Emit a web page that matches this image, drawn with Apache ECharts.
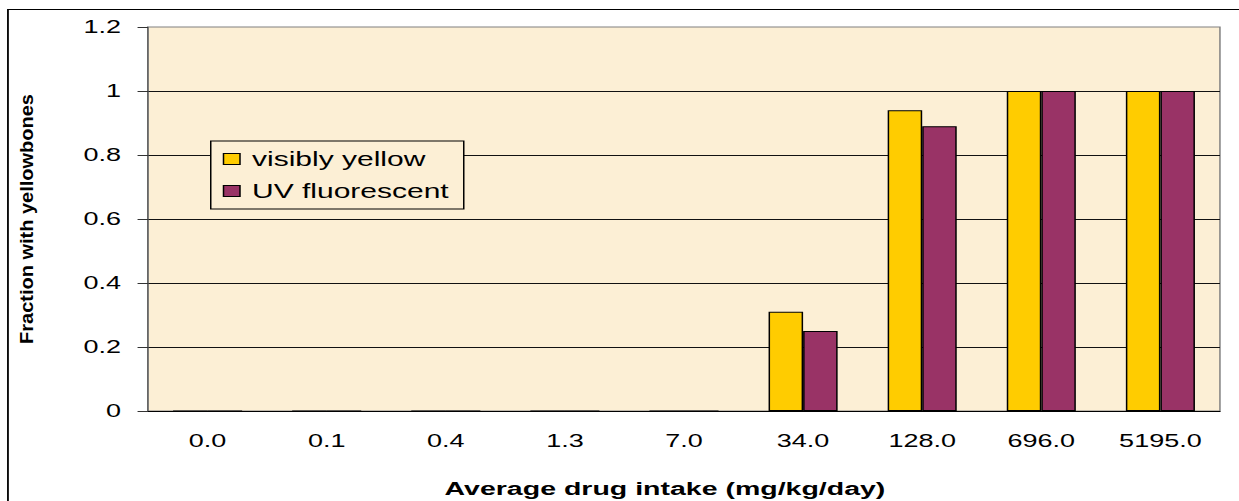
<!DOCTYPE html>
<html>
<head>
<meta charset="utf-8">
<script src="https://cdn.jsdelivr.net/npm/echarts@6/dist/echarts.min.js"></script>
<style>
html, body { margin: 0; padding: 0; background: #fff; overflow: hidden; }
/* the source picture is an Excel chart stretched sideways, so draw narrow and stretch */
#chart { width: 826px; height: 501px; transform: scaleX(1.5); transform-origin: 0 0; }
</style>
</head>
<body>
<div id="chart"></div>
<script>
// average drug intake (mg/kg/day)
const categories = ['0.0', '0.1', '0.4', '1.3', '7.0', '34.0', '128.0', '696.0', '5195.0']
// fraction of animals with yellow bones
const visiblyYellow = [0, 0, 0, 0, 0, 0.31, 0.94, 1, 1]
const uvFluorescent = [0, 0, 0, 0, 0, 0.25, 0.89, 1, 1]

const font = '"Liberation Sans", Arial, sans-serif'
const plotBg = '#fcefd5'

const myChart = echarts.init(document.getElementById('chart'), null, { renderer: 'svg' })

const option = {
  animation: false,
  textStyle: { fontFamily: font, color: '#000' },
  grid: {
    left: 98.7,
    right: 12.7,
    top: 27,
    bottom: 90,
    show: true,
    backgroundColor: plotBg,
    borderColor: '#808080',
    borderWidth: 1
  },
  legend: {
    orient: 'vertical',
    left: 140.5,
    top: 141,
    padding: [8, 10, 8, 8],
    itemWidth: 11,
    itemHeight: 11,
    itemGap: 12,
    icon: 'rect',
    backgroundColor: plotBg,
    borderColor: '#000',
    borderWidth: 1,
    itemStyle: { borderColor: '#000', borderWidth: 1 },
    textStyle: { fontSize: 20, lineHeight: 20, fontFamily: font, color: '#000', padding: [0, 0, 0, 3] },
    data: ['visibly yellow', 'UV fluorescent']
  },
  xAxis: {
    type: 'category',
    data: categories,
    axisLine: { lineStyle: { color: '#000', width: 1 } },
    axisTick: { length: 7, lineStyle: { color: '#000' } },
    axisLabel: { fontSize: 18, margin: 21, color: '#000', fontFamily: font },
    splitLine: { show: false }
  },
  yAxis: {
    type: 'value',
    min: 0,
    max: 1.2,
    interval: 0.2,
    axisLine: { show: true, lineStyle: { color: '#666' } },
    axisTick: { show: true, length: 7, lineStyle: { color: '#333' } },
    axisLabel: { fontSize: 18, margin: 18, color: '#000', fontFamily: font },
    splitLine: { show: true, showMaxLine: false, lineStyle: { color: '#111', width: 1 } }
  },
  graphic: [
    {
      type: 'rect',
      silent: true,
      shape: { x: 5.3, y: 9.5, width: 1000, height: 600 },
      style: { fill: 'none', stroke: '#000', lineWidth: 1.2 }
    },
    {
      type: 'text',
      x: 17.8,
      y: 219,
      rotation: Math.PI / 2,
      scaleY: 0.6,
      style: {
        text: 'Fraction with yellowbones',
        fontSize: 20,
        fontWeight: 'bold',
        fontFamily: font,
        fill: '#000',
        align: 'center',
        verticalAlign: 'middle'
      }
    },
    {
      type: 'text',
      x: 443.3,
      y: 488,
      style: {
        text: 'Average drug intake (mg/kg/day)',
        fontSize: 19,
        fontWeight: 'bold',
        fontFamily: font,
        fill: '#000',
        align: 'center',
        verticalAlign: 'middle'
      }
    }
  ],
  series: [
    {
      name: 'visibly yellow',
      type: 'bar',
      data: visiblyYellow,
      barGap: '0%',
      barCategoryGap: '42%',
      itemStyle: { color: '#ffcc00', borderColor: '#000', borderWidth: 1 }
    },
    {
      name: 'UV fluorescent',
      type: 'bar',
      data: uvFluorescent,
      itemStyle: { color: '#993366', borderColor: '#000', borderWidth: 1 }
    }
  ]
}

myChart.setOption(option)
</script>
</body>
</html>
